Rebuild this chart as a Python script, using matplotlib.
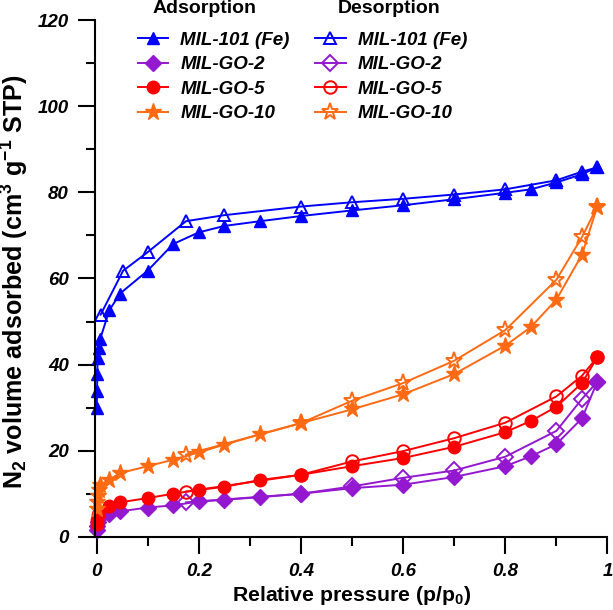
import matplotlib
matplotlib.use('Agg')
import matplotlib.pyplot as plt

plt.rcParams['font.family'] = ['Liberation Sans', 'DejaVu Sans']
plt.rcParams['mathtext.fontset'] = 'custom'
plt.rcParams['mathtext.rm'] = 'Liberation Sans:bold'
plt.rcParams['mathtext.default'] = 'rm'

# MIL-101 (Fe)
mil_ads_x = [0.0005, 0.001, 0.0015, 0.002, 0.004, 0.007, 0.025, 0.046, 0.1, 0.15,
             0.2, 0.25, 0.32, 0.4, 0.5, 0.6, 0.7, 0.8, 0.85, 0.9, 0.95, 0.98]
mil_ads_y = [30.0, 33.8, 37.8, 41.6, 43.8, 45.9, 52.6, 56.5, 61.8, 68.0,
             70.7, 72.2, 73.3, 74.5, 75.8, 77.0, 78.4, 79.9, 80.7, 82.3, 84.2, 85.8]
mil_des_x = [0.98, 0.95, 0.9, 0.8, 0.7, 0.6, 0.5, 0.4, 0.25, 0.175, 0.1, 0.052, 0.008]
mil_des_y = [85.8, 84.8, 82.8, 80.7, 79.5, 78.5, 77.7, 76.7, 74.7, 73.3, 66.1, 61.8, 51.6]

# MIL-GO-2
go2_ads_x = [0.0005, 0.001, 0.002, 0.004, 0.025, 0.046, 0.1, 0.15, 0.2, 0.25,
             0.32, 0.4, 0.5, 0.6, 0.7, 0.8, 0.85, 0.9, 0.95, 0.98]
go2_ads_y = [1.6, 2.6, 3.5, 4.3, 5.3, 5.9, 6.8, 7.3, 8.2, 8.6,
             9.2, 10.0, 11.3, 12.1, 13.9, 16.4, 18.7, 21.5, 27.5, 36.0]
go2_des_x = [0.98, 0.95, 0.9, 0.8, 0.7, 0.6, 0.5, 0.4, 0.175]
go2_des_y = [36.0, 32.0, 24.6, 18.6, 15.4, 13.7, 11.7, 10.0, 8.0]

# MIL-GO-5
go5_ads_x = [0.0005, 0.001, 0.002, 0.004, 0.025, 0.046, 0.1, 0.15, 0.2, 0.25,
             0.32, 0.4, 0.5, 0.6, 0.7, 0.8, 0.85, 0.9, 0.95, 0.98]
go5_ads_y = [3.0, 3.9, 5.0, 5.8, 7.2, 8.0, 9.0, 10.0, 10.9, 11.6,
             13.2, 14.4, 16.4, 18.3, 20.9, 24.3, 26.9, 30.2, 35.7, 41.7]
go5_des_x = [0.98, 0.95, 0.9, 0.8, 0.7, 0.6, 0.5, 0.4, 0.175]
go5_des_y = [41.7, 37.4, 32.6, 26.5, 22.9, 19.9, 17.5, 14.4, 10.5]

# MIL-GO-10
go10_ads_x = [0.0005, 0.001, 0.002, 0.004, 0.007, 0.025, 0.046, 0.1, 0.15, 0.2,
              0.25, 0.32, 0.4, 0.5, 0.6, 0.7, 0.8, 0.85, 0.9, 0.95, 0.98]
go10_ads_y = [6.5, 8.0, 9.5, 10.8, 12.0, 13.3, 14.8, 16.4, 17.9, 19.6,
              21.4, 23.8, 26.4, 29.6, 33.1, 37.8, 44.4, 48.7, 55.1, 65.5, 76.7]
go10_des_x = [0.98, 0.95, 0.9, 0.8, 0.7, 0.6, 0.5, 0.4, 0.175]
go10_des_y = [76.7, 69.6, 59.7, 48.0, 40.9, 35.7, 31.6, 26.4, 19.1]

names = ['MIL-101 (Fe)', 'MIL-GO-2', 'MIL-GO-5', 'MIL-GO-10']
colors = ['#0000FF', '#9418D0', '#FF0000', '#FF6A13']
markers = ['^', 'D', 'o', '*']
msizes = [9, 8.5, 9, 12.5]

ads = [(mil_ads_x, mil_ads_y), (go2_ads_x, go2_ads_y),
       (go5_ads_x, go5_ads_y), (go10_ads_x, go10_ads_y)]
des = [(mil_des_x, mil_des_y), (go2_des_x, go2_des_y),
       (go5_des_x, go5_des_y), (go10_des_x, go10_des_y)]

fig = plt.figure(figsize=(6.13, 6.10), dpi=100)
ax = fig.add_axes([0.155, 0.12, 0.836, 0.847])

ads_handles = []
des_handles = []
for i in range(4):
    h, = ax.plot(ads[i][0], ads[i][1], color=colors[i], marker=markers[i],
                 ms=msizes[i], lw=1.4, mec=colors[i], mfc=colors[i], clip_on=False)
    ads_handles.append(h)
    h, = ax.plot(des[i][0], des[i][1], color=colors[i], marker=markers[i],
                 ms=msizes[i], lw=1.4, mec=colors[i], mfc='none', mew=1.4, clip_on=False)
    des_handles.append(h)

ax.set_xlim(-0.003, 1.0)
ax.set_ylim(0, 120)
ax.spines['top'].set_visible(False)
ax.spines['right'].set_visible(False)
ax.spines['left'].set_linewidth(1.5)
ax.spines['bottom'].set_linewidth(1.5)

ax.set_xticks([0, 0.2, 0.4, 0.6, 0.8, 1.0])
ax.set_xticklabels(['0', '0.2', '0.4', '0.6', '0.8', '1'])
ax.set_xticks([0.1, 0.3, 0.5, 0.7, 0.9], minor=True)
ax.set_yticks([0, 20, 40, 60, 80, 100, 120])
ax.set_yticks([10, 30, 50, 70, 90, 110], minor=True)
ax.tick_params(which='major', direction='out', length=12, width=1.5, pad=7)
ax.tick_params(which='minor', direction='out', length=6.5, width=1.5)
for lab in ax.get_xticklabels() + ax.get_yticklabels():
    lab.set_fontsize(13.5)
    lab.set_fontweight('bold')
    lab.set_fontstyle('italic')

ax.set_xlabel('Relative pressure (p/p$_0$)', fontsize=15.3, fontweight='bold')
ax.xaxis.set_label_coords(0.5, -0.092)
ylab = ax.set_ylabel('N$_2$ volume adsorbed (cm$^3$ g$^{-1}$ STP)', fontsize=15,
                     fontweight='bold')
ax.yaxis.set_label_coords(-0.125, 0.493)

# shrink the y label so it spans about the same height as in the reference
fig.canvas.draw()
span = ylab.get_window_extent().height
ylab.set_fontsize(15 * 415 / span)

leg = ax.legend(ads_handles + des_handles, names + names, ncol=2, frameon=False,
                loc='upper left', bbox_to_anchor=(0.05, 1.01), handlelength=1.65,
                handletextpad=0.64, columnspacing=1.33, labelspacing=0.39,
                prop={'size': 13.5, 'weight': 'bold', 'style': 'italic'})

fig.text(0.334, 0.986, 'Adsorption', fontsize=14, fontweight='bold', ha='center', va='center')
fig.text(0.635, 0.986, 'Desorption', fontsize=14, fontweight='bold', ha='center', va='center')

fig.savefig('out.png', dpi=100)
